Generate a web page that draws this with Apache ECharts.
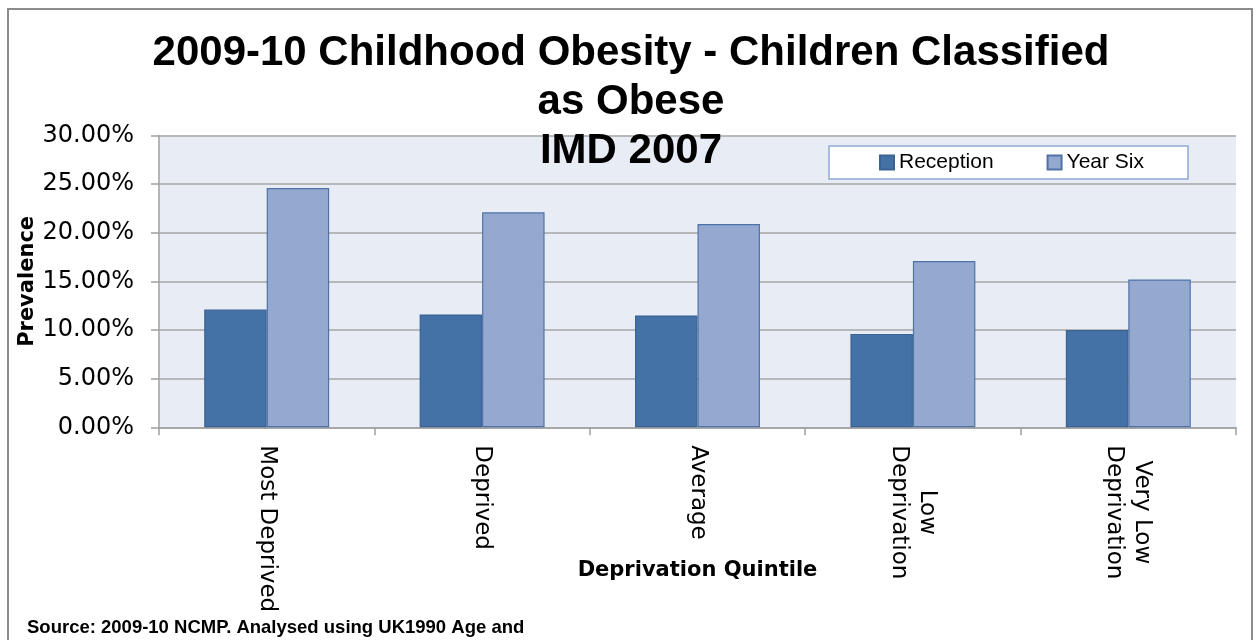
<!DOCTYPE html>
<html>
<head>
<meta charset="utf-8">
<script src="https://cdn.jsdelivr.net/npm/echarts@6/dist/echarts.min.js"></script>
<style>
html,body{margin:0;padding:0;background:#fff;}
#chart{width:1257px;height:640px;}
</style>
</head>
<body>
<div id="chart"></div>
<script>
const categories = ['Most Deprived', 'Deprived', 'Average', 'Low\nDeprivation', 'Very Low\nDeprivation'];
const reception = [12.1, 11.6, 11.5, 9.6, 10.0];
const yearSix = [24.6, 22.1, 20.9, 17.1, 15.2];
const seriesNames = ['Reception', 'Year Six'];
const titleText = '2009-10 Childhood Obesity - Children Classified\nas Obese\nIMD 2007';
const yAxisTitle = 'Prevalence';
const xAxisTitle = 'Deprivation Quintile';
const sourceText = 'Source: 2009-10 NCMP. Analysed using UK1990 Age and';

const chart = echarts.init(document.getElementById('chart'), null, {renderer: 'canvas'});
chart.setOption({
  animation: false,
  backgroundColor: '#ffffff',
  title: {
    text: titleText,
    left: 631,
    top: 29,
    textAlign: 'center',
    padding: 0,
    textStyle: {
      fontFamily: 'Liberation Sans',
      fontWeight: 'bold',
      fontSize: 42,
      lineHeight: 49,
      color: '#000'
    }
  },
  legend: {
    data: seriesNames,
    left: 829,
    top: 146,
    orient: 'horizontal',
    backgroundColor: '#ffffff',
    borderColor: '#8eaad6',
    borderWidth: 1.5,
    borderRadius: 0,
    padding: [6, 44, 6, 50],
    itemWidth: 14,
    itemHeight: 14,
    itemGap: 53,
    icon: 'rect',
    textStyle: {
      fontFamily: 'Liberation Sans',
      fontSize: 21,
      color: '#000'
    }
  },
  grid: {
    left: 159,
    right: 21,
    top: 135.5,
    bottom: 212.7,
    show: true,
    backgroundColor: '#e8ecf4',
    borderWidth: 0,
    containLabel: false,
    outerBoundsMode: 'none'
  },
  xAxis: {
    type: 'category',
    data: categories,
    name: xAxisTitle,
    nameLocation: 'middle',
    nameGap: 133,
    nameMoveOverlap: false,
    nameTextStyle: {
      fontFamily: 'DejaVu Sans',
      fontWeight: 'bold',
      fontSize: 21,
      color: '#000'
    },
    axisLine: {show: true, lineStyle: {color: '#a0a0a0', width: 1.5}},
    axisTick: {show: true, length: 8, interval: 0, alignWithLabel: false, lineStyle: {color: '#a0a0a0', width: 1.5}},
    axisLabel: {
      interval: 0,
      rotate: -90,
      margin: 18,
      formatter: function (v) {
        return v.split('\n').map(function (s) { return '{c|' + s + '}'; }).join('\n');
      },
      rich: {
        c: {
          fontFamily: 'DejaVu Sans',
          fontSize: 23,
          lineHeight: 28,
          align: 'center',
          color: '#000'
        }
      }
    },
    splitLine: {show: false}
  },
  yAxis: {
    type: 'value',
    min: 0,
    max: 30,
    interval: 5,
    name: yAxisTitle,
    nameLocation: 'middle',
    nameGap: 121,
    nameMoveOverlap: false,
    nameTextStyle: {
      fontFamily: 'DejaVu Sans',
      fontWeight: 'bold',
      fontSize: 21,
      color: '#000'
    },
    axisLine: {show: true, lineStyle: {color: '#a0a0a0', width: 1.5}},
    axisTick: {show: true, length: 8, lineStyle: {color: '#a0a0a0', width: 1.5}},
    axisLabel: {
      margin: 25,
      fontFamily: 'DejaVu Sans',
      fontSize: 24,
      color: '#000',
      formatter: function (v) { return v.toFixed(2) + '%'; }
    },
    splitLine: {show: true, lineStyle: {color: '#a6a6a6', width: 1.5}}
  },
  series: [
    {
      name: seriesNames[0],
      type: 'bar',
      data: reception,
      barGap: '0%',
      barCategoryGap: '42%',
      itemStyle: {color: '#4472a7', borderColor: '#3a6292', borderWidth: 1.2}
    },
    {
      name: seriesNames[1],
      type: 'bar',
      data: yearSix,
      barGap: '0%',
      barCategoryGap: '42%',
      itemStyle: {color: '#95a9d0', borderColor: '#4e72a8', borderWidth: 1.2}
    }
  ],
  graphic: [
    {
      type: 'rect',
      silent: true,
      z: 100,
      shape: {x: 8, y: 9, width: 1244, height: 700},
      style: {fill: 'none', stroke: '#8c8c8c', lineWidth: 2}
    },
    {
      type: 'text',
      silent: true,
      z: 100,
      x: 27,
      y: 628,
      style: {
        text: sourceText,
        fontFamily: 'Liberation Sans',
        fontWeight: 'bold',
        fontSize: 18.5,
        fill: '#000',
        verticalAlign: 'middle',
        align: 'left'
      }
    }
  ]
});
</script>
</body>
</html>
